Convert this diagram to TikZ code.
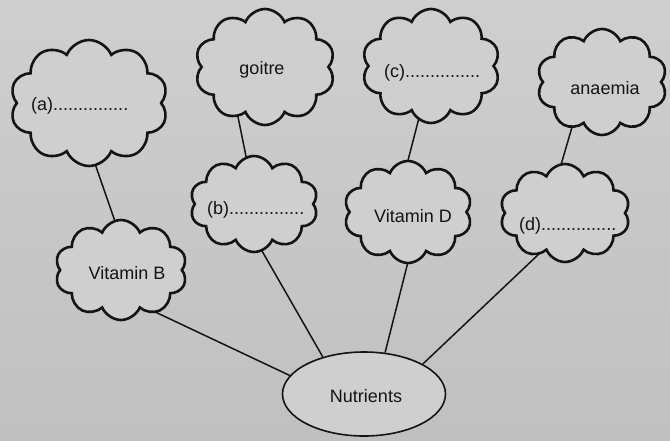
\documentclass[tikz,border=0pt]{standalone}
\usepackage{fontspec}
\setmainfont{Liberation Sans}
\usetikzlibrary{shapes.symbols,shapes.geometric,calc}
\pgfdeclarelayer{paper}
\pgfdeclarelayer{links}
\pgfsetlayers{paper,links,main}
\definecolor{paper}{RGB}{207,207,207}
\definecolor{paperlow}{RGB}{192,192,192}
\definecolor{ink}{RGB}{20,20,20}
\tikzset{
  puff/.style={cloud, cloud puffs=10, cloud puff arc=135, draw=ink, line width=2.6pt,
    fill=paper, inner sep=0pt},
  link/.style={draw=ink, line width=1.5pt},
  lbl/.style={font=\fontsize{18}{20}\selectfont, text=ink, inner sep=0pt},
  hub/.style={ellipse, draw=ink, line width=1.6pt, fill=paper, inner sep=0pt}
}
\begin{document}
\begin{tikzpicture}[x=1pt,y=-1pt]
\begin{pgfonlayer}{paper}
\shade[top color=paper!100, bottom color=paperlow] (0,0) rectangle (670,440);
\end{pgfonlayer}
\useasboundingbox (0,0) rectangle (670,440);

\node[puff, minimum width=158pt, minimum height=126pt] (a) at (89,103) {};
\node[puff, minimum width=140pt, minimum height=116pt] (g) at (265,67) {};
\node[puff, minimum width=128pt, minimum height=96pt] (b) at (254,204) {};
\node[puff, minimum width=138pt, minimum height=114pt] (c) at (431,66) {};
\node[puff, minimum width=128pt, minimum height=102pt] (vd) at (408,212) {};
\node[puff, minimum width=130pt, minimum height=106pt] (an) at (602,82) {};
\node[puff, minimum width=130pt, minimum height=98pt] (d) at (565,213) {};
\node[puff, minimum width=132pt, minimum height=100pt] (vb) at (121,270) {};
\node[hub, minimum width=163pt, minimum height=84pt] (n) at (364,394) {};

\node[lbl, anchor=west] (ta) at (31,106) {(a)...............};
\node[lbl] (tg) at (262,70) {goitre};
\node[lbl, anchor=west] (tb) at (207,210) {(b)...............};
\node[lbl, anchor=west] (tc) at (384,73) {(c)...............};
\node[lbl] (tvd) at (413,216) {Vitamin D};
\node[lbl] (tan) at (605,88) {anaemia};
\node[lbl, anchor=west] (td) at (519,226) {(d)...............};
\node[lbl] (tvb) at (127,273) {Vitamin B};
\node[lbl] (tn) at (366,396) {Nutrients};

\begin{pgfonlayer}{links}
\draw[link] ($(a.center)+(4,55)$) -- ($(vb.center)+(-3,-40)$);
\draw[link] ($(g.center)+(-28,45)$) -- ($(b.center)+(-6,-38)$);
\draw[link] ($(c.center)+(-11,48)$) -- ($(vd.center)+(-3,-40)$);
\draw[link] ($(an.center)+(-27,35)$) -- ($(d.center)+(-7,-38)$);
\draw[link] ($(vb.center)+(30,40)$) -- (n.166);
\draw[link] ($(b.center)+(4,40)$) -- (n.138);
\draw[link] ($(vd.center)+(2,42)$) -- (n.63);
\draw[link] ($(d.center)+(-25,40)$) -- (n.27);
\end{pgfonlayer}
\end{tikzpicture}
\end{document}
